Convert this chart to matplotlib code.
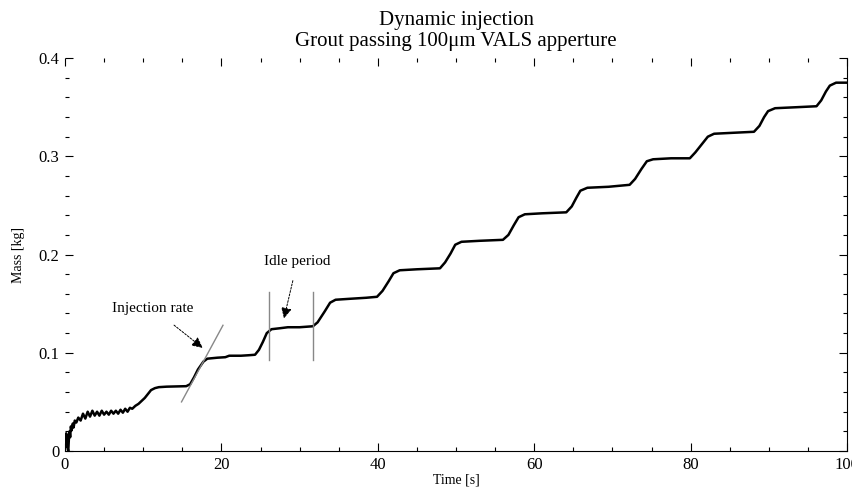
import matplotlib.pyplot as plt

plt.rcParams['font.family'] = ['Liberation Serif', 'DejaVu Serif']

# mass record
time_s = [0, 0.08, 0.15, 0.2, 0.28, 0.35, 0.42, 0.5, 0.58, 0.66, 0.75, 0.85, 1.0, 1.1, 1.25, 1.45, 1.7, 2.0,
          2.3, 2.6, 2.9, 3.2, 3.5, 3.8, 4.1, 4.4, 4.7, 5.0, 5.3, 5.6, 5.9, 6.2, 6.5, 6.8, 7.1, 7.4, 7.7,
          8.0, 8.3, 8.6, 9.0, 9.4, 9.8, 10.2, 10.6, 11.0, 11.5, 12.0, 13.0, 15.5, 16.0, 16.5, 17.0, 17.7,
          18.2, 19.5, 20.5, 21.0, 22.5, 23.5, 24.3, 24.8, 25.3, 25.8, 26.4, 27.5, 28.5, 30.0, 31.7,
          32.3, 33.2, 33.9, 34.6, 36.5, 38.5, 39.9, 40.6, 41.4, 42.0, 42.8, 45.0, 47.95, 48.6, 49.3,
          49.9, 50.7, 53.0, 56.0, 56.7, 57.4, 58.0, 58.8, 61.0, 64.1, 64.8, 65.4, 65.9, 66.8, 69.5,
          72.2, 72.9, 73.7, 74.4, 75.2, 77.5, 79.9, 80.6, 81.5, 82.2, 83.0, 85.5, 88.1, 88.8, 89.4,
          89.9, 90.8, 93.5, 96.1, 96.7, 97.3, 97.8, 98.6, 100]
mass_kg = [0.012, 0.004, 0.018, 0.007, 0.016, 0.002, 0.0, 0.013, 0.020, 0.014, 0.025, 0.021, 0.028, 0.024,
           0.031, 0.029, 0.034, 0.031, 0.038, 0.033, 0.040, 0.035, 0.041, 0.036, 0.040, 0.036, 0.041,
           0.037, 0.040, 0.037, 0.041, 0.038, 0.041, 0.038, 0.042, 0.039, 0.043, 0.040, 0.044, 0.043,
           0.046, 0.048, 0.051, 0.054, 0.058, 0.062, 0.064, 0.065, 0.0655, 0.066, 0.068, 0.075,
           0.083, 0.091, 0.094, 0.095, 0.0955, 0.097, 0.097, 0.0975, 0.098, 0.103, 0.111, 0.120,
           0.124, 0.125, 0.126, 0.126, 0.127, 0.131, 0.142, 0.151, 0.154, 0.155, 0.156, 0.157,
           0.163, 0.173, 0.181, 0.184, 0.185, 0.186, 0.192, 0.201, 0.210, 0.213, 0.214, 0.215,
           0.220, 0.230, 0.238, 0.241, 0.242, 0.243, 0.249, 0.258, 0.265, 0.268, 0.269, 0.271,
           0.277, 0.287, 0.295, 0.297, 0.298, 0.298, 0.304, 0.313, 0.320, 0.323, 0.324, 0.325,
           0.331, 0.340, 0.346, 0.349, 0.350, 0.351, 0.357, 0.366, 0.372, 0.375, 0.375]

# guide lines drawn on the chart
rate_line_t = [14.9, 20.2]
rate_line_m = [0.050, 0.128]
idle_t = [26.1, 31.75]
idle_m_low = 0.093
idle_m_high = 0.162

x_ticks = [0, 20, 40, 60, 80, 100]
x_minor = [5, 10, 15, 25, 30, 35, 45, 50, 55, 65, 70, 75, 85, 90, 95]
y_ticks = [0, 0.1, 0.2, 0.3, 0.4]
y_minor = [0.02, 0.04, 0.06, 0.08, 0.12, 0.14, 0.16, 0.18, 0.22, 0.24, 0.26, 0.28,
           0.32, 0.34, 0.36, 0.38]

fig = plt.figure(figsize=(8.53, 5.01), dpi=100)
ax = fig.add_axes([0.0762, 0.0998, 0.9168, 0.7842])

ax.plot(time_s, mass_kg, color='black', linewidth=1.8)
ax.plot(rate_line_t, rate_line_m, color='#888888', linewidth=1.0)
for t in idle_t:
    ax.plot([t, t], [idle_m_low, idle_m_high], color='#888888', linewidth=1.0)

ax.annotate('Injection rate', xy=(17.6, 0.105), xytext=(11.2, 0.1455), fontsize=11,
            ha='center', va='center',
            arrowprops=dict(arrowstyle='-|>', linestyle=(0, (2, 1.5)), color='black',
                            lw=0.7, mutation_scale=16, shrinkA=9, shrinkB=0))
ax.annotate('Idle period', xy=(28.0, 0.135), xytext=(29.7, 0.1925), fontsize=11,
            ha='center', va='center',
            arrowprops=dict(arrowstyle='-|>', linestyle=(0, (2, 1.5)), color='black',
                            lw=0.7, mutation_scale=16, shrinkA=7, shrinkB=0))

ax.set_xlim(0, 100)
ax.set_ylim(0, 0.4)
ax.set_xticks(x_ticks)
ax.set_xticks(x_minor, minor=True)
ax.set_xticklabels([str(v) for v in x_ticks], fontsize=12)
ax.set_yticks(y_ticks)
ax.set_yticks(y_minor, minor=True)
ax.set_yticklabels(['0', '0.1', '0.2', '0.3', '0.4'], fontsize=12)
ax.tick_params(which='both', direction='in', top=True, right=True, width=0.8)
ax.tick_params(which='major', length=6)
ax.tick_params(axis='y', which='major', pad=4)
ax.tick_params(axis='x', which='major', pad=4)
ax.tick_params(which='minor', length=3)
ax.spines['left'].set_visible(False)
ax.spines['top'].set_visible(False)

ax.set_xlabel('Time [s]', fontsize=10, labelpad=1)
ax.set_ylabel('Mass [kg]', fontsize=10, labelpad=10)
ax.set_title('Dynamic injection\nGrout passing 100\u03bcm VALS apperture', fontsize=15,
             linespacing=1.15, pad=9)

plt.savefig('out.png', dpi=100)
